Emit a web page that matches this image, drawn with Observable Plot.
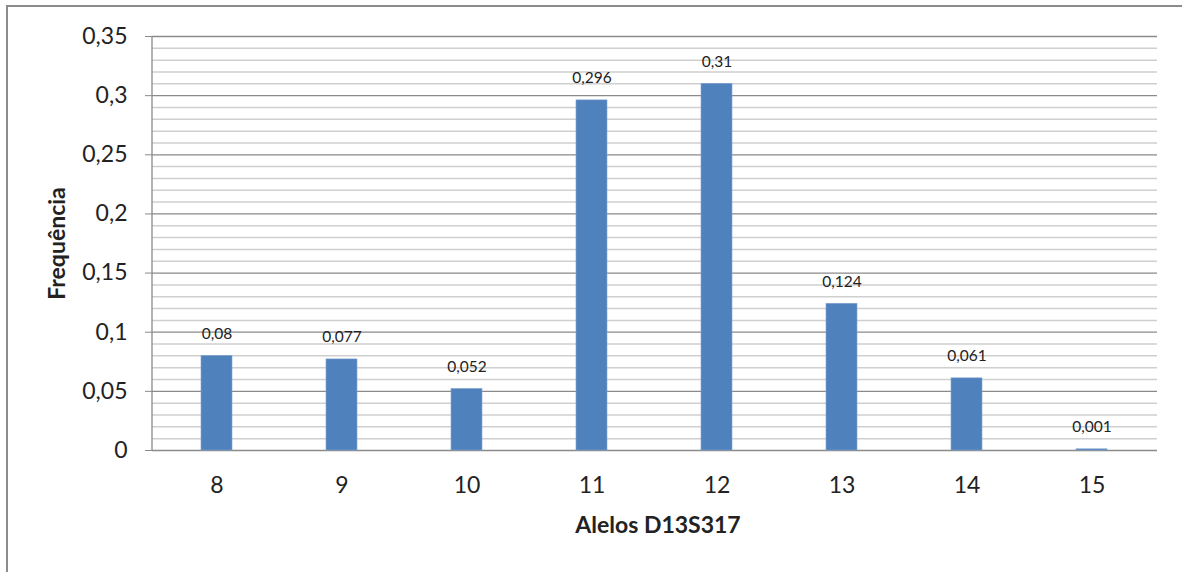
<!DOCTYPE html>
<html>
<head>
<meta charset="utf-8">
<script src="https://cdn.jsdelivr.net/npm/d3@7"></script>
<script src="https://cdn.jsdelivr.net/npm/@observablehq/plot@0.6"></script>
<style>
  html, body { margin: 0; padding: 0; background: #fff; }
  #wrap { position: relative; width: 1182px; height: 572px; overflow: hidden; }
  #border { position: absolute; left: 6px; top: 5px; width: 1300px; height: 700px;
            border-left: 2px solid #8c8c8c; border-top: 2px solid #8c8c8c; }
  #chart { position: absolute; left: 0; top: 0; }
</style>
</head>
<body>
<div id="wrap"><div id="border"></div><div id="chart"></div></div>
<script>
const alleles = ["8", "9", "10", "11", "12", "13", "14", "15"];
const freqs = [0.08, 0.077, 0.052, 0.296, 0.31, 0.124, 0.061, 0.001];
const yTicks = [0, 0.05, 0.1, 0.15, 0.2, 0.25, 0.3, 0.35];
const yMinorTicks = d3.range(0, 36).map(i => i / 100).filter(v => Math.round(v * 100) % 5 !== 0);
const xTitle = "Alelos D13S317";
const yTitle = "Frequência";

const data = alleles.map((a, i) => ({allele: a, freq: freqs[i]}));
const fmt = v => String(v).replace(".", ",");
const font = "Lato, 'Open Sans', sans-serif";

const chart = Plot.plot({
  width: 1182,
  height: 572,
  marginLeft: 152,
  marginRight: 25,
  marginTop: 36,
  marginBottom: 122,
  style: {fontFamily: font, background: "transparent", color: "#222"},
  x: {domain: alleles, paddingInner: 0.75, paddingOuter: 0.375, label: null},
  y: {domain: [0, 0.35], label: null},
  marks: [
    Plot.ruleY(yMinorTicks, {stroke: "#cfcfcf", strokeWidth: 1.5}),
    Plot.ruleY(yTicks, {stroke: "#8a8a8a", strokeWidth: 1.3}),
    (index, scales, values, dims) => {
      const g = document.createElementNS("http://www.w3.org/2000/svg", "line");
      g.setAttribute("x1", dims.marginLeft);
      g.setAttribute("x2", dims.marginLeft);
      g.setAttribute("y1", scales.y(0.35));
      g.setAttribute("y2", scales.y(0));
      g.setAttribute("stroke", "#8a8a8a");
      g.setAttribute("stroke-width", 1.3);
      return g;
    },
    Plot.axisY({ticks: yTicks, tickFormat: fmt, tickSize: 7, tickPadding: 18, fontSize: 23, stroke: "#8a8a8a", fill: "#222"}),
    Plot.axisX({tickSize: 0, tickPadding: 26, fontSize: 23, fill: "#222"}),
    Plot.barY(data, {x: "allele", y: "freq", fill: "#4F81BD", stroke: "#7FA3CF", strokeWidth: 0.6}),
    Plot.text(data, {x: "allele", y: "freq", text: d => fmt(d.freq), dy: -22, fontSize: 15.5, fill: "#222"}),
    Plot.text([xTitle], {frameAnchor: "bottom", text: d => d, dx: 3, dy: 82, fontSize: 23, fontWeight: "bold", fill: "#222"}),
    Plot.text([yTitle], {frameAnchor: "left", textAnchor: "middle", text: d => d, rotate: -90, dx: -95, fontSize: 23, fontWeight: "bold", fill: "#222"})
  ]
});
document.getElementById("chart").appendChild(chart);
</script>
</body>
</html>
